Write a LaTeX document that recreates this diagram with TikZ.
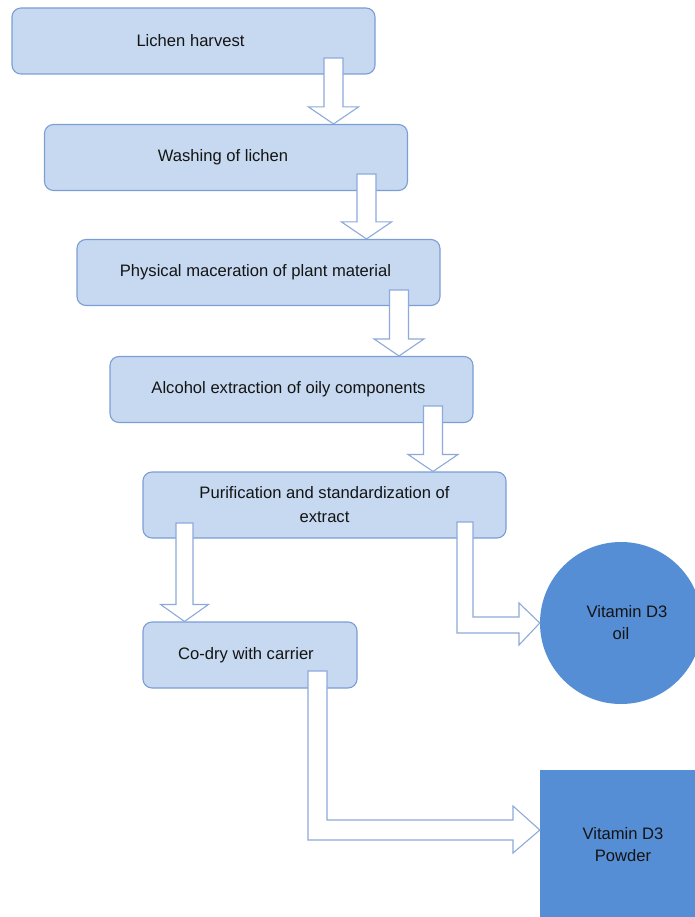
\documentclass[tikz,border=0pt]{standalone}
\usepackage{fontspec}
\setmainfont{Liberation Sans}
\usetikzlibrary{calc}
\definecolor{boxfill}{RGB}{198,217,240}
\definecolor{boxborder}{RGB}{123,158,214}
\definecolor{arrowborder}{RGB}{142,170,219}
\definecolor{darkblue}{RGB}{85,142,213}
\definecolor{txt}{RGB}{20,20,20}
\tikzset{
  stepbox/.style={draw=boxborder, fill=boxfill, line width=1.1pt, rounded corners=9pt,
    minimum width=363pt, minimum height=66pt, inner sep=0pt, text=txt,
    font=\fontsize{16.6}{24}\selectfont, align=center},
  endnode/.style={fill=darkblue, inner sep=0pt, text=txt,
    font=\fontsize{16.6}{22}\selectfont, align=center},
  blockarrow/.style={draw=arrowborder, fill=white, line width=1.1pt, line join=miter}
}
\newcommand{\vblock}[5]{%
  \draw[blockarrow] let \p1=(#1,#2), \p2=(#3.north) in
    (\x1-#4pt,\y1) -- (\x1+#4pt,\y1) -- (\x1+#4pt,\y2+17pt) -- (\x1+#5pt,\y2+17pt)
    -- (\x1,\y2) -- (\x1-#5pt,\y2+17pt) -- (\x1-#4pt,\y2+17pt) -- cycle;}
\begin{document}
\begin{tikzpicture}[x=1pt,y=-1pt]
\clip (0,0) rectangle (695,917);
\fill[white] (0,0) rectangle (695,917);
% process boxes
\node[stepbox] (b1) at (193.5,41) {Lichen harvest\hspace*{6pt}};
\node[stepbox] (b2) at (226,157.5) {Washing of lichen\hspace*{6pt}};
\node[stepbox] (b3) at (258.5,272.5) {Physical maceration of plant material\hspace*{6pt}};
\node[stepbox] (b4) at (291.5,389.5) {Alcohol extraction of oily components\hspace*{6pt}};
\node[stepbox] (b5) at (324.5,505) {Purification and standardization of\\extract};
\node[stepbox, minimum width=214pt] (b6) at (250,655) {Co-dry with carrier\hspace*{8pt}};
% products
\node[endnode, circle, minimum size=162pt] (oil) at (621,623) {\hspace*{12pt}Vitamin D3\\oil};
\node[endnode, rectangle, minimum width=166pt, minimum height=150pt] (powder) at (623,845) {Vitamin D3\\Powder};
% vertical block arrows
\vblock{333.5}{58}{b2}{9.5}{25}
\vblock{366.5}{174}{b3}{9.5}{25}
\vblock{399}{290}{b4}{9.5}{25}
\vblock{433}{406}{b5}{9.5}{25}
\vblock{184.5}{523}{b6}{8.5}{24}
% elbow block arrows
\coordinate (tipoil) at (oil.west);
\draw[blockarrow] let \p1=(tipoil) in
  (457,522) -- (473,522) -- (473,617) -- (519,617) -- (519,603) -- (\x1,\y1)
  -- (519,645) -- (519,633) -- (457,633) -- cycle;
\coordinate (tippow) at ($(powder.west)+(0,-15)$);
\draw[blockarrow] let \p1=(tippow) in
  (308,671) -- (327,671) -- (327,820) -- (513,820) -- (513,806) -- (\x1,\y1)
  -- (513,853) -- (513,840) -- (308,840) -- cycle;
\end{tikzpicture}
\end{document}
